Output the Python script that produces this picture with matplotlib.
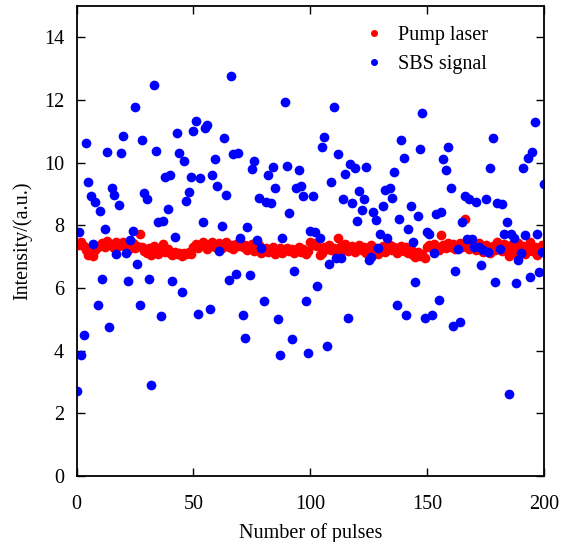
import numpy as np
from matplotlib import pyplot as plt

plt.rcParams['font.family'] = ['Liberation Serif', 'DejaVu Serif']

# pulse number 0..200
pulses = np.arange(201)

# pump laser intensity (red)
pump_laser = [7.42, 7.38, 7.47, 7.33, 7.20, 7.05, 7.28, 7.02, 7.22, 7.31,
              7.36, 7.44, 7.29, 7.50, 7.38, 7.41, 7.26, 7.46, 7.33, 7.39,
              7.47, 7.30, 7.22, 7.36, 7.43, 7.28, 7.35, 7.72, 7.31, 7.19,
              7.12, 7.26, 7.04, 7.34, 7.18, 7.09, 7.29, 7.40, 7.15, 7.23,
              7.11, 7.06, 7.14, 7.08, 7.10, 7.03, 7.12, 7.07, 7.15, 7.09,
              7.32, 7.41, 7.28, 7.37, 7.45, 7.33, 7.25, 7.39, 7.48, 7.30,
              7.36, 7.42, 7.27, 7.34, 7.46, 7.31, 7.38, 7.24, 7.40, 7.35,
              7.44, 7.29, 7.37, 7.22, 7.33, 7.41, 7.18, 7.30, 7.36, 7.12,
              7.20, 7.27, 7.15, 7.24, 7.31, 7.08, 7.19, 7.26, 7.13, 7.22,
              7.28, 7.17, 7.25, 7.11, 7.21, 7.30, 7.16, 7.24, 7.09, 7.18,
              7.45, 7.38, 7.42, 7.33, 7.06, 7.12, 7.30, 7.25, 7.36, 7.20,
              7.28, 7.15, 7.58, 7.34, 7.22, 7.40, 7.18, 7.29, 7.35, 7.14,
              7.26, 7.38, 7.21, 7.31, 7.12, 7.24, 7.36, 7.19, 7.28, 7.07,
              7.22, 7.33, 7.15, 7.27, 7.38, 7.20, 7.30, 7.11, 7.25, 7.34,
              7.18, 7.29, 7.13, 7.23, 7.05, 6.98, 7.16, 7.02, 7.09, 6.96,
              7.30, 7.38, 7.26, 7.41, 7.33, 7.22, 7.70, 7.36, 7.28, 7.43,
              7.31, 7.39, 7.24, 7.35, 7.42, 7.29, 8.20, 7.37, 7.25, 7.40,
              7.33, 7.21, 7.44, 7.30, 7.16, 7.38, 7.27, 7.10, 7.34, 7.22,
              7.45, 7.31, 7.18, 7.40, 7.26, 7.03, 7.36, 7.13, 7.29, 7.42,
              7.20, 7.35, 7.08, 7.27, 7.46, 7.17, 7.32, 7.05, 7.24, 7.38,
              7.15]

# SBS signal intensity (blue)
sbs_signal = [2.72, 7.79, 3.85, 4.51, 10.62, 9.37, 8.93, 7.39, 8.75, 5.44,
              8.44, 6.30, 7.87, 10.35, 4.76, 9.20, 8.97, 7.07, 8.65, 10.30,
              10.85, 7.10, 6.22, 7.52, 7.82, 11.79, 6.75, 5.45, 10.71, 9.02,
              8.83, 6.27, 2.91, 12.48, 10.36, 8.10, 5.11, 8.14, 9.53, 8.51,
              9.59, 6.22, 7.63, 10.93, 10.32, 5.87, 10.06, 8.78, 9.06, 9.55,
              11.00, 11.32, 5.18, 9.50, 8.10, 11.12, 11.19, 5.34, 9.60, 10.13,
              9.25, 7.17, 7.99, 10.77, 8.95, 6.24, 12.75, 10.29, 6.45, 10.32,
              7.60, 5.12, 4.40, 7.95, 6.40, 9.78, 10.06, 7.53, 8.86, 7.26,
              5.58, 8.73, 9.61, 8.71, 9.87, 9.20, 5.01, 3.87, 7.60, 11.93,
              9.90, 8.40, 4.37, 6.54, 9.18, 9.76, 9.26, 8.93, 5.58, 3.92,
              7.82, 8.93, 7.78, 6.06, 7.58, 10.51, 10.83, 4.16, 6.77, 9.38,
              11.77, 6.95, 10.29, 6.95, 8.85, 9.65, 5.05, 9.95, 8.70, 9.82,
              8.14, 9.08, 8.48, 8.84, 9.87, 6.89, 6.99, 8.42, 8.16, 7.26,
              7.71, 8.60, 9.12, 7.58, 9.18, 8.86, 9.71, 5.44, 8.19, 10.72,
              10.14, 5.15, 7.89, 8.63, 7.45, 6.20, 8.29, 10.45, 11.57, 5.03,
              7.80, 7.71, 5.13, 7.13, 8.35, 5.61, 8.43, 10.11, 9.76, 10.49,
              9.19, 4.80, 6.54, 7.23, 4.91, 8.09, 8.94, 7.57, 8.85, 7.57,
              7.31, 8.74, 7.32, 6.72, 7.20, 8.85, 7.15, 9.82, 10.78, 6.20,
              8.71, 7.25, 8.67, 7.73, 8.09, 2.61, 7.73, 7.60, 6.17, 6.90,
              7.10, 9.84, 7.69, 10.14, 6.36, 10.33, 11.30, 7.73, 6.52, 7.15,
              9.33]

fig = plt.figure(figsize=(5.72, 5.42), dpi=100)
ax = fig.add_axes([0.134, 0.122, 0.817, 0.867])

ax.plot(pulses, pump_laser, 'o', color='#ff0000', markersize=7,
        markeredgewidth=0, label='Pump laser')
ax.plot(pulses, sbs_signal, 'o', color='#0000ff', markersize=7,
        markeredgewidth=0, label='SBS signal')

ax.set_xlim(0, 200)
ax.set_ylim(0, 15)
ax.set_xticks([0, 50, 100, 150, 200])
ax.set_yticks([0, 2, 4, 6, 8, 10, 12, 14])
ax.tick_params(direction='in', top=True, right=True, length=6, width=1,
               labelsize=14.5)
ax.tick_params(axis='x', pad=14)
ax.tick_params(axis='y', pad=9)
for s in ax.spines.values():
    s.set_linewidth(1.3)

ax.set_xlabel('Number of pulses', fontsize=14.5, labelpad=6)
ax.set_ylabel('Intensity/(a.u.)', fontsize=14.5, labelpad=8)

# legend sits a bit left of the corner, no frame
ax.legend(loc='upper right', bbox_to_anchor=(0.923, 1.0), frameon=False,
          fontsize=14.5, markerscale=0.72, handletextpad=0.2,
          borderaxespad=0.6, labelspacing=0.5)

plt.savefig('out.png', dpi=100)
